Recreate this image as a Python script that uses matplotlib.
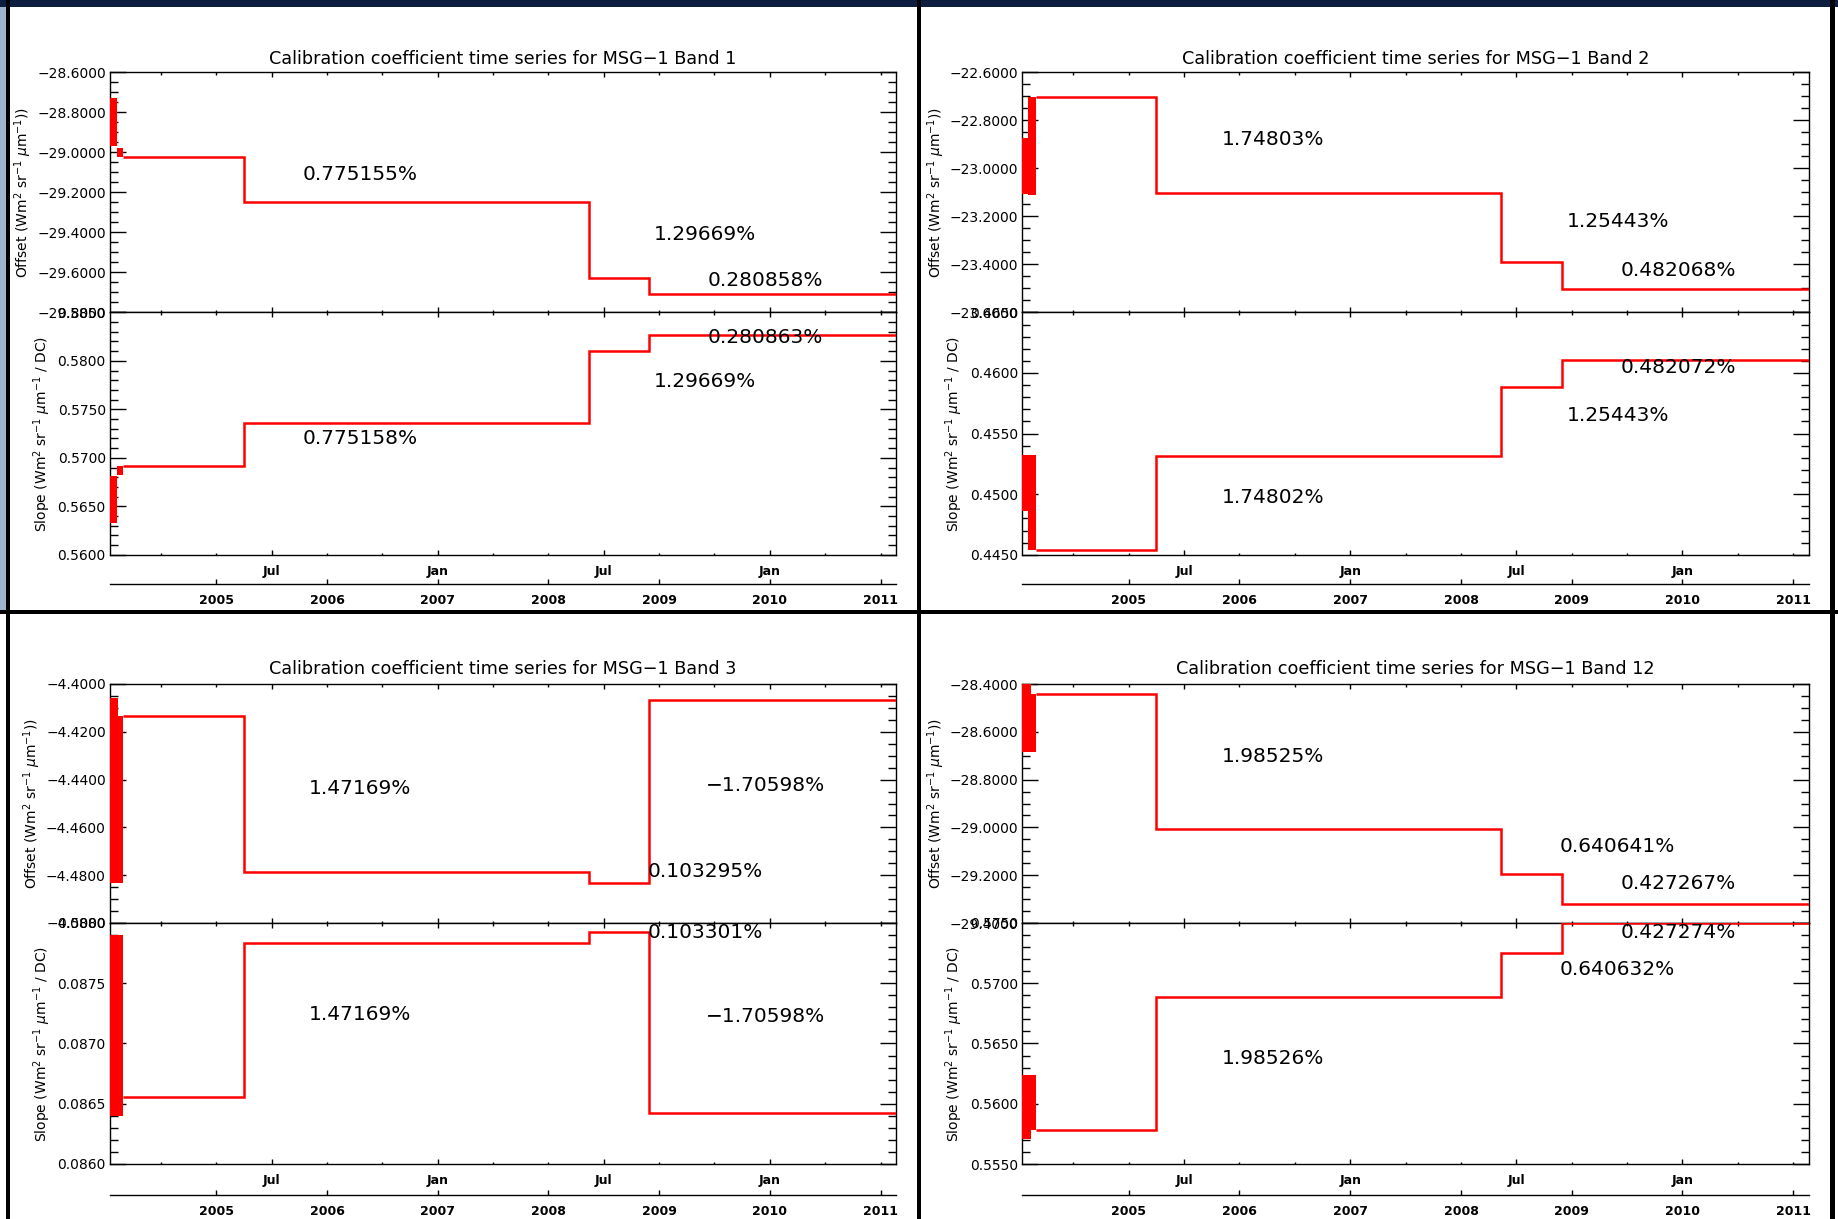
import matplotlib
matplotlib.use('Agg')
from matplotlib import pyplot as plt
from matplotlib.patches import Rectangle
from matplotlib.ticker import MultipleLocator, FixedLocator, FixedFormatter, FuncFormatter
import numpy as np

plt.rcParams['font.family'] = ['DejaVu Sans']
plt.rcParams['mathtext.fontset'] = 'dejavusans'

W, H = 1838, 1219

# time axis in decimal years
x_start, x_end = 2004.04, 2011.14
step_dates = [2005.25, 2008.365, 2008.91]
month_ticks = [2005.5, 2007.0, 2008.5, 2010.0]
month_labels = ['Jul', 'Jan', 'Jul', 'Jan']
year_ticks = [2005, 2006, 2007, 2008, 2009, 2010, 2011]

# Band 1
b1_offset = [-29.023, -29.248, -29.627, -29.710]
b1_offset_pct = ['0.775155%', '1.29669%', '0.280858%']
b1_offset_early = [(2004.04, 2004.105, -28.97, -28.73), (2004.105, 2004.16, -29.023, -28.98)]
b1_slope = [0.56918, 0.57359, 0.58103, 0.58266]
b1_slope_pct = ['0.775158%', '1.29669%', '0.280863%']
b1_slope_early = [(2004.04, 2004.105, 0.56331, 0.56816), (2004.105, 2004.16, 0.56823, 0.56918)]

# Band 2
b2_offset = [-22.704, -23.101, -23.391, -23.504]
b2_offset_pct = ['1.74803%', '1.25443%', '0.482068%']
b2_offset_early = [(2004.025, 2004.093, -23.105, -22.875), (2004.093, 2004.16, -23.11, -22.704)]
b2_slope = [0.4454, 0.45319, 0.45887, 0.46108]
b2_slope_pct = ['1.74802%', '1.25443%', '0.482072%']
b2_slope_early = [(2004.025, 2004.093, 0.4486, 0.4532), (2004.093, 2004.16, 0.4454, 0.4532)]

# Band 3
b3_offset = [-4.4135, -4.4785, -4.4831, -4.4066]
b3_offset_pct = ['1.47169%', '0.103295%', '\u22121.70598%']
b3_offset_early = [(2004.022, 2004.112, -4.4834, -4.4059), (2004.112, 2004.157, -4.4834, -4.4135)]
b3_slope = [0.08656, 0.087834, 0.087925, 0.086425]
b3_slope_pct = ['1.47169%', '0.103301%', '\u22121.70598%']
b3_slope_early = [(2004.022, 2004.157, 0.0864, 0.0879)]

# Band 12
b12_offset = [-28.443, -29.008, -29.194, -29.319]
b12_offset_pct = ['1.98525%', '0.640641%', '0.427267%']
b12_offset_early = [(2004.025, 2004.115, -28.683, -28.39), (2004.115, 2004.16, -28.683, -28.443)]
b12_slope = [0.5578, 0.56887, 0.57251, 0.57496]
b12_slope_pct = ['1.98526%', '0.640632%', '0.427274%']
b12_slope_early = [(2004.025, 2004.115, 0.5571, 0.5624), (2004.115, 2004.16, 0.5578, 0.5624)]

bands = [
    ('1', b1_offset, b1_offset_pct, b1_offset_early, b1_slope, b1_slope_pct, b1_slope_early),
    ('2', b2_offset, b2_offset_pct, b2_offset_early, b2_slope, b2_slope_pct, b2_slope_early),
    ('3', b3_offset, b3_offset_pct, b3_offset_early, b3_slope, b3_slope_pct, b3_slope_early),
    ('12', b12_offset, b12_offset_pct, b12_offset_early, b12_slope, b12_slope_pct, b12_slope_early),
]

# y ranges: (min, max, major, minor) for offset and slope plots
offset_axis = [(-29.8, -28.6, 0.2, 0.05), (-23.6, -22.6, 0.2, 0.05),
               (-4.5, -4.4, 0.02, 0.005), (-29.4, -28.4, 0.2, 0.05)]
slope_axis = [(0.56, 0.585, 0.005, 0.001), (0.445, 0.465, 0.005, 0.001),
              (0.086, 0.088, 0.0005, 0.0001), (0.555, 0.575, 0.005, 0.001)]

# pixel layout of the 2x2 grid
col_x = [(110, 896), (1022.4, 1808.7)]
row_y = [dict(title=59, top=72.4, mid=312.4, bottom=554.8, years=584.4),
         dict(title=669.5, top=684, mid=923, bottom=1164, years=1195)]


def px_rect(left, top, right, bottom):
    return [left / W, 1 - bottom / H, (right - left) / W, (bottom - top) / H]


def idl_fmt(v, pos):
    return f'{v:.4f}'.replace('-', '\u2212')


def style_axes(ax, yaxis_spec, show_months):
    lo, hi, major, minor = yaxis_spec
    ax.set_xlim(x_start, x_end)
    ax.set_ylim(lo, hi)
    ax.yaxis.set_major_locator(MultipleLocator(major))
    ax.yaxis.set_minor_locator(MultipleLocator(minor))
    ax.yaxis.set_major_formatter(FuncFormatter(idl_fmt))
    ax.xaxis.set_major_locator(FixedLocator(month_ticks))
    ax.xaxis.set_major_formatter(FixedFormatter(month_labels))
    ax.xaxis.set_minor_locator(MultipleLocator(0.5))
    ax.tick_params(axis='both', which='both', direction='in', top=True, right=True,
                   width=1.0, labelsize=10)
    ax.tick_params(axis='y', which='major', length=11.5, pad=3)
    ax.tick_params(axis='y', which='minor', length=6)
    ax.tick_params(axis='x', which='major', length=3.6, pad=7, labelsize=9)
    ax.tick_params(axis='x', which='minor', length=1.8)
    ax.tick_params(axis='x', labelbottom=show_months)
    for lab in ax.get_xticklabels():
        lab.set_fontweight('bold')
    for s in ax.spines.values():
        s.set_linewidth(1.0)


def draw_series(ax, levels, pct_labels, early):
    for x0, x1, lo, hi in early:
        ax.fill_between([x0, x1], lo, hi, color='red', lw=0, zorder=3)
    edges = [early[-1][1]] + step_dates + [x_end]
    ax.stairs(levels, edges, baseline=None, color='red', lw=1.8, zorder=3)
    for i, txt in enumerate(pct_labels):
        ax.text(step_dates[i] + 1.05, (levels[i] + levels[i + 1]) / 2, txt,
                ha='center', va='baseline', fontsize=14.5, zorder=4)


fig = plt.figure(figsize=(W / 100, H / 100), dpi=100)

for k, (band, off, off_pct, off_early, slp, slp_pct, slp_early) in enumerate(bands):
    row, col = divmod(k, 2)
    left, right = col_x[col]
    r = row_y[row]

    ax_off = fig.add_axes(px_rect(left, r['top'], right, r['mid']))
    style_axes(ax_off, offset_axis[k], False)
    draw_series(ax_off, off, off_pct, off_early)
    ax_off.set_ylabel('Offset (Wm$^2$ sr$^{-1}$ $\\mu$m$^{-1}$))', fontsize=10, labelpad=2)

    ax_slp = fig.add_axes(px_rect(left, r['mid'], right, r['bottom']))
    style_axes(ax_slp, slope_axis[k], True)
    draw_series(ax_slp, slp, slp_pct, slp_early)
    ax_slp.set_ylabel('Slope (Wm$^2$ sr$^{-1}$ $\\mu$m$^{-1}$ / DC)', fontsize=10, labelpad=3.5)

    # second level of the date axis: years
    ax_yr = fig.add_axes(px_rect(left, r['years'], right, r['years']))
    ax_yr.set_xlim(x_start, x_end)
    ax_yr.patch.set_visible(False)
    for name in ('left', 'right', 'top'):
        ax_yr.spines[name].set_visible(False)
    ax_yr.spines['bottom'].set_linewidth(1.0)
    ax_yr.set_yticks([])
    ax_yr.set_xticks(year_ticks)
    ax_yr.set_xticklabels([str(y) for y in year_ticks], fontsize=9, fontweight='bold')
    ax_yr.tick_params(axis='x', direction='in', length=3.6, width=1.0, pad=7)

    fig.text((left + right) / 2 / W, 1 - r['title'] / H,
             f'Calibration coefficient time series for MSG\u22121 Band {band}',
             ha='center', va='center', fontsize=12.7)


def px_box(x, y, w, h, color):
    fig.add_artist(Rectangle((x / W, 1 - (y + h) / H), w / W, h / H,
                             transform=fig.transFigure, color=color, lw=0, zorder=10))


# frame of the slide
px_box(0, 0, W, 7, '#0c1d40')
px_box(0, 7, 6, 605, '#9fb4cc')
px_box(6, 0, 3.5, H, 'black')
px_box(916.5, 0, 4, H, 'black')
px_box(0, 610, W, 4, 'black')
px_box(1830, 0, 5, H, 'black')

fig.savefig('out.png', dpi=100)
